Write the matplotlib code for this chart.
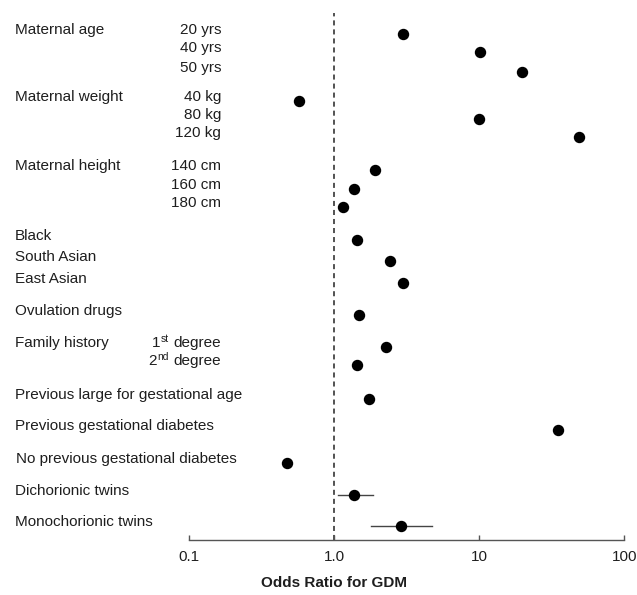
import numpy as np
import matplotlib.pyplot as plt
import matplotlib.transforms as mtransforms

plt.rcParams['font.family'] = ['Liberation Sans', 'DejaVu Sans']

# data
row_labels = ["20 yrs", "40 yrs", "50 yrs",
              "40 kg", "80 kg", "120 kg",
              "140 cm", "160 cm", "180 cm",
              "Black", "South Asian", "East Asian",
              "Ovulation drugs",
              "degree", "degree",
              "Previous large for gestational age",
              "Previous gestational diabetes",
              "No previous gestational diabetes",
              "Dichorionic twins", "Monochorionic twins"]
odds = [3.0, 10.2, 19.7,
        0.575, 10.0, 48.5,
        1.91, 1.38, 1.15,
        1.44, 2.42, 3.0,
        1.49,
        2.29, 1.43,
        1.73, 34.9, 0.47,
        1.38, 2.89]
ci_low = [np.nan] * 18 + [1.06, 1.79]
ci_high = [np.nan] * 18 + [1.85, 4.73]
group_labels = ["Maternal age", "Maternal weight", "Maternal height", "Family history"]
group_rows = [0, 3, 6, 13]
sub_rows = [0, 1, 2, 3, 4, 5, 6, 7, 8, 13, 14]
# family history degree prefixes (number + superscript)
degree_num = {13: ("1", "st"), 14: ("2", "nd")}
tick_vals = [0.1, 1, 10, 100]
tick_labels = ["0.1", "1.0", "10", "100"]

# layout: vertical position of each row (pixels from the top)
row_y = [34, 52, 72, 101, 119, 137, 170, 189, 207,
         240, 261, 283, 315, 347, 365, 399, 430, 463, 495, 526]

W, H = 637, 595
fig = plt.figure(figsize=(W / 100, H / 100), dpi=100)
ax = fig.add_axes([189 / W, (H - 540) / H, 435.3 / W, (540 - 13) / H])
ax.set_xscale('log')
ax.set_xlim(0.1, 100)
ax.set_ylim(540, 13)

txt = '#1e1e1e'
grey = '#444444'

ax.axvline(1.0, color=grey, lw=1.3, ls=(0, (2.8, 2.2)), zorder=1)

for i in range(len(odds)):
    if not np.isnan(ci_low[i]):
        ax.plot([ci_low[i], ci_high[i]], [row_y[i], row_y[i]], color=grey, lw=1.0, zorder=2)
ax.plot(odds, row_y, 'o', color='black', ms=7.2, zorder=3)

for s in ['top', 'right', 'left']:
    ax.spines[s].set_visible(False)
ax.spines['bottom'].set_color('#555555')
ax.spines['bottom'].set_linewidth(1.0)
ax.set_yticks([])
ax.set_xticks(tick_vals)
ax.set_xticklabels(tick_labels)
ax.minorticks_off()
ax.tick_params(axis='x', direction='in', length=3.5, width=1.0, color='#555555',
               labelsize=11, labelcolor=txt, pad=7.5)

ax.text(1.0, 583, "Odds Ratio for GDM", ha='center', va='center', fontsize=11,
        fontweight='bold', color=txt, clip_on=False)

trans = mtransforms.blended_transform_factory(fig.transFigure, ax.transData)
sub_texts = {}
for i, lab in enumerate(row_labels):
    if i in sub_rows:
        sub_texts[i] = fig.text(221 / W, row_y[i], lab, transform=trans, ha='right',
                                va='baseline', fontsize=11, color=txt)
    else:
        x0 = 16.5 if lab.startswith("No previous") else 15
        fig.text(x0 / W, row_y[i], lab, transform=trans, ha='left', va='baseline',
                 fontsize=11, color=txt)
for lab, r in zip(group_labels, group_rows):
    fig.text(15 / W, row_y[r], lab, transform=trans, ha='left', va='baseline',
             fontsize=11, color=txt)

# "1st degree" / "2nd degree" with small raised suffix
renderer = fig.canvas.get_renderer()
ident = mtransforms.IdentityTransform()
for i, (num, sup) in degree_num.items():
    base = ax.transData.transform((1, row_y[i]))[1]
    left = sub_texts[i].get_window_extent(renderer).x0 - 5
    t_sup = fig.text(left, base + 5, sup, transform=ident, ha='right', va='baseline',
                     fontsize=7.5, color=txt)
    left2 = t_sup.get_window_extent(renderer).x0
    fig.text(left2, base, num, transform=ident, ha='right', va='baseline',
             fontsize=11, color=txt)

fig.savefig('out.png', dpi=100)
